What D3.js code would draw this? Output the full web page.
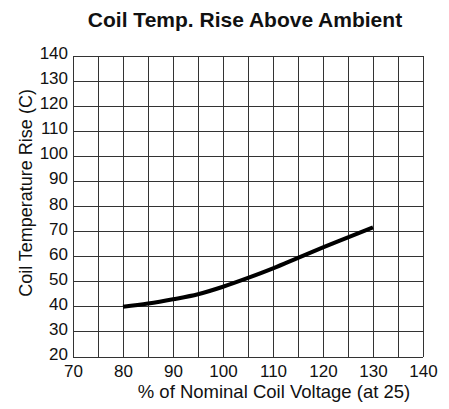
<!DOCTYPE html>
<html>
<head>
<meta charset="utf-8">
<script src="https://cdn.jsdelivr.net/npm/d3@7"></script>
<style>
  body { margin: 0; background: #fff; }
  text { font-family: "Liberation Sans", Arial, sans-serif; fill: #111; }
</style>
</head>
<body>
<svg id="chart"></svg>
<script>
// values
const voltage = [80, 85, 90, 95, 100, 105, 110, 115, 120, 125, 130];
const tempRise = [40, 41.3, 43, 45, 48, 51.5, 55.3, 59.5, 63.7, 67.7, 71.7];
const xTicks = [70, 80, 90, 100, 110, 120, 130, 140];
const yTicks = [20, 30, 40, 50, 60, 70, 80, 90, 100, 110, 120, 130, 140];

const width = 449, height = 409;
const margin = { top: 56, right: 26, bottom: 52, left: 73 };

const svg = d3.select("#chart")
    .attr("width", width)
    .attr("height", height);

const xScale = d3.scaleLinear().domain([70, 140]).range([margin.left, width - margin.right]);
const yScale = d3.scaleLinear().domain([20, 140]).range([height - margin.bottom, margin.top]);

// grid: vertical every 5, horizontal every 10
const grid = svg.append("g")
    .attr("stroke", "#333")
    .attr("stroke-width", 1)
    .attr("shape-rendering", "crispEdges");

grid.selectAll("line.v")
    .data(d3.range(70, 141, 5))
    .join("line")
    .attr("class", "v")
    .attr("x1", d => xScale(d)).attr("x2", d => xScale(d))
    .attr("y1", yScale(20)).attr("y2", yScale(140));

grid.selectAll("line.h")
    .data(yTicks)
    .join("line")
    .attr("class", "h")
    .attr("x1", xScale(70)).attr("x2", xScale(140))
    .attr("y1", d => yScale(d)).attr("y2", d => yScale(d));

// tick labels
const xAxis = svg.append("g")
    .attr("transform", `translate(0, ${yScale(20)})`)
    .call(d3.axisBottom(xScale).tickValues(xTicks).tickSize(0).tickPadding(8));
xAxis.select(".domain").remove();
xAxis.selectAll("text")
    .style("font-size", "17px")
    .attr("fill", "#111");

const yAxis = svg.append("g")
    .attr("transform", `translate(${xScale(70)}, 0)`)
    .call(d3.axisLeft(yScale).tickValues(yTicks).tickSize(0).tickPadding(5));
yAxis.select(".domain").remove();
yAxis.selectAll("text")
    .style("font-size", "17px")
    .attr("dy", "0.15em")
    .attr("fill", "#111");

// curve
const line = d3.line()
    .x((d, i) => xScale(voltage[i]))
    .y(d => yScale(d))
    .curve(d3.curveMonotoneX);

svg.append("path")
    .datum(tempRise)
    .attr("d", line)
    .attr("fill", "none")
    .attr("stroke", "#000")
    .attr("stroke-width", 4);

// titles
svg.append("text")
    .attr("x", 245)
    .attr("y", 27)
    .attr("text-anchor", "middle")
    .style("font-size", "21px")
    .style("font-weight", "bold")
    .text("Coil Temp. Rise Above Ambient");

svg.append("text")
    .attr("x", 274)
    .attr("y", 398)
    .attr("text-anchor", "middle")
    .style("font-size", "18.5px")
    .text("% of Nominal Coil Voltage (at 25)");

svg.append("text")
    .attr("transform", "translate(32, 193) rotate(-90)")
    .attr("text-anchor", "middle")
    .style("font-size", "18px")
    .text("Coil Temperature Rise (C)");
</script>
</body>
</html>
